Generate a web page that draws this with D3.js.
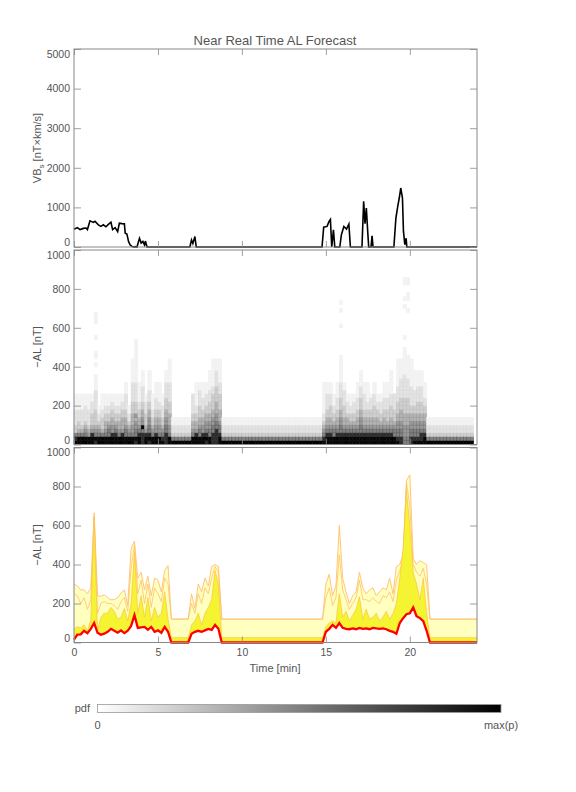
<!DOCTYPE html>
<html><head><meta charset="utf-8">
<script src="https://cdn.jsdelivr.net/npm/d3@7"></script>
<style>
body{margin:0;background:#fff;}
text{font-family:"Liberation Sans",Arial,sans-serif;fill:#555;}
</style></head><body>
<svg id="c" width="576" height="792"></svg>
<script>
// ---------------- DATA ----------------
const title = "Near Real Time AL Forecast";
const xTicks = [0,5,10,15,20];
const vTicks = [0,1000,2000,3000,4000,5000];
const alTicks = [0,200,400,600,800,1000];

// VBs (nT x km/s) - irregular time samples (min)
const vbsT = [0,0.2,0.36,0.56,0.72,0.8,0.95,1.15,1.25,1.45,1.6,1.75,1.9,2.05,2.2,2.3,2.45,2.6,2.7,2.85,3.0,3.05,3.15,3.25,3.35,3.45,3.55,3.65,3.75,3.9,4.0,4.1,4.2,4.25,4.35,
  6.9,7.0,7.08,7.2,7.28,
  14.77,14.87,15.07,15.19,15.27,15.35,15.45,15.53,15.83,15.92,16.07,16.23,16.37,16.46,
  17.15,17.25,17.33,17.41,17.49,17.55,17.69,17.75,17.81,
  19.05,19.17,19.27,19.37,19.46,19.56,19.62,19.7,19.78,19.82,24];
const vbsV = [450,490,440,470,480,440,660,620,650,560,520,560,510,570,627,440,490,390,600,590,585,350,330,135,50,15,0,10,0,220,100,140,50,150,0,
  0,178,90,263,0,
  0,500,520,644,695,0,432,0,0,300,517,450,576,0,
  0,1152,590,983,400,0,0,280,0,
  0,729,1000,1237,1490,1237,400,60,220,0,0];

// AL forecast quantiles on a 0.2-min grid (0 ... 24 min, 121 samples)
const p50 = [15,40,42,60,48,70,100,50,40,45,55,70,60,50,62,48,60,85,140,75,78,80,65,80,55,62,50,80,55,
  0,0,0,0,0,0,
  45,55,60,55,62,70,65,90,70,
  0,0,0,0,0,0,0,0,0,0,0,0,0,0,0,0,0,0,0,0,0,0,0,0,0,0,0,0,0,0,0,
  55,70,90,75,100,75,70,68,72,68,75,70,72,68,75,72,70,72,68,60,55,45,100,125,145,150,180,135,125,110,60,
  0,0,0,0,0,0,0,0,0,0,0,0,0,0,0];
const p75 = [70,80,75,90,60,115,640,60,130,150,150,180,160,120,130,175,110,200,460,150,240,130,230,110,180,130,150,260,120,
  25,25,25,25,25,25,
  90,110,150,90,150,180,220,370,300,
  25,25,25,25,25,25,25,25,25,25,25,25,25,25,25,25,25,25,25,25,25,25,25,25,25,25,25,25,25,25,25,
  80,100,110,100,250,130,160,110,140,170,235,120,170,120,130,150,110,130,160,120,150,200,330,480,780,600,360,300,220,330,150,
  25,25,25,25,25,25,25,25,25,25,25,25,25,25,25];
const p90 = [250,240,200,230,170,220,650,150,200,210,200,200,190,170,210,230,160,380,500,250,320,200,300,180,280,250,210,330,300,
  120,120,120,120,120,120,
  200,150,250,200,280,250,330,390,360,
  120,120,120,120,120,120,120,120,120,120,120,120,120,120,120,120,120,120,120,120,120,120,120,120,120,120,120,120,120,120,120,
  230,280,190,230,450,270,220,170,200,230,320,220,220,210,230,210,200,240,230,260,210,320,370,420,820,700,400,360,340,380,300,
  120,120,120,120,120,120,120,120,120,120,120,120,120,120,120];
const p95 = [300,290,270,270,250,280,665,240,237,245,230,219,220,230,254,270,190,480,520,330,360,270,340,240,330,320,260,370,395,
  120,120,120,120,120,120,
  250,175,300,260,330,290,390,400,390,
  120,120,120,120,120,120,120,120,120,120,120,120,120,120,120,120,120,120,120,120,120,120,120,120,120,120,120,120,120,120,120,
  300,350,240,290,600,330,260,200,240,260,360,280,250,270,280,240,260,280,270,330,250,390,400,450,830,860,430,400,420,410,400,
  120,120,120,120,120,120,120,120,120,120,120,120,120,120,120];

// pdf histogram: one string per 0.2-min column, one digit (0..9) per 20 nT row from the bottom
const Q = "9632211";
const pdfCols = [
 "8763322221111","8864332221111","8864322221111","9865432222111","8854322221111","8875433322211",
 "7865433332222211110010110001000111","9865432211","8864333221111","8865443322111","8866543322111",
 "8875544332211","8876543322111","8865443322111","8875444332211","8866544332222111","9865432211",
 "8865544433322222111111","786655453332222211111111111","8876544332211111","7776855443322221111",
 "8875433322211","7876655443322211111","8865433221111","8875544332221111","8865544332211111",
 "8765433222111","7776655443332222111","8865544433322222111111",
 Q,Q,Q,Q,Q,Q,
 "8865443322222","8875443322111111","8866544333222211","8875544332221111","7876554433222111",
 "8866554433322211111","7776655443333221111111","7777665544433332222111","8876654443333222111111",
 Q,Q,Q,Q,Q,Q,Q,Q,Q,Q,Q,Q,Q,Q,Q,Q,Q,Q,Q,Q,Q,Q,Q,Q,Q,Q,Q,Q,Q,Q,
 "8765432211111111","8876544332222111","8876544333222111","8866543322111","8876544332221111",
 "8876655443332222111111100000001000101","8876544333222211","8876544322211","8876543322111",
 "8876543322211","8876544332221111","8876655443332221111","8876544332222111","8876544332211111",
 "8876544332221","8876544333222111","8876544332211","8876543322211","8876544332221111",
 "8876543332221111","8876544333222111111","8866543332222","8766554433322221111111",
 "7766554443332222211111",
 "6655544433332222221111111001000000010100011",
 "6655544433332222211111100000000000100110011",
 "7766554433222221111111","8766554433222211111","8766554433322221111",
 "8776554433322221111","8876554433221111",
 Q,Q,Q,Q,Q,Q,Q,Q,Q,Q,Q,Q,Q,Q
];

// ---------------- DRAWING ----------------
const svg = d3.select("#c");
const step = 0.2;
const tGrid = d3.range(p50.length).map(i => +(i*step).toFixed(2));

const x = d3.scaleLinear().domain([0,24]).range([74,477]);
const yV = d3.scaleLinear().domain([0,5000]).range([247,49]);
const yM = d3.scaleLinear().domain([0,1000]).range([444.5,250]);
const yB = d3.scaleLinear().domain([0,1000]).range([642.5,447.5]);

const axisCol = "#888";
function frame(y, yMajor, yMinorStep, showX){
  const g = svg.append("g");
  const [y0,y1] = y.range();
  const ymax = y.domain()[1];
  const yMinor = d3.range(0, ymax+0.001, yMinorStep);
  const xMinor = d3.range(0, 24.001, 1);
  const left = g.append("g").attr("transform",`translate(${x(0)},0)`);
  left.call(d3.axisLeft(y).tickValues(yMinor).tickSize(-3.5).tickFormat(""));
  left.call(d3.axisLeft(y).tickValues(yMajor).tickSize(-7).tickPadding(4).tickFormat(d3.format("d")));
  const right = g.append("g").attr("transform",`translate(${x(24)},0)`);
  right.call(d3.axisRight(y).tickValues(yMinor).tickSize(-3.5).tickFormat(""));
  right.call(d3.axisRight(y).tickValues(yMajor).tickSize(-7).tickFormat(""));
  const bot = g.append("g").attr("transform",`translate(0,${y0})`);
  bot.call(d3.axisBottom(x).tickValues(xMinor).tickSize(-3).tickFormat(""));
  bot.call(d3.axisBottom(x).tickValues(xTicks).tickSize(-6).tickPadding(6).tickFormat(showX? d3.format("d") : ""));
  const top = g.append("g").attr("transform",`translate(0,${y1})`);
  top.call(d3.axisTop(x).tickValues(xMinor).tickSize(-3).tickFormat(""));
  top.call(d3.axisTop(x).tickValues(xTicks).tickSize(-6).tickFormat(""));
  g.selectAll(".domain").remove();
  g.selectAll(".tick line").attr("stroke",axisCol).attr("stroke-width",0.8);
  g.selectAll(".tick text").attr("font-size",10.5).attr("fill","#555")
    .style("font-family","Liberation Sans, Arial, sans-serif");
  left.selectAll(".tick text").attr("dy", d => d===0 ? "-0.12em" : (d===ymax ? "0.8em" : "0.32em"));
  g.append("rect").attr("x",x(0)).attr("y",y1).attr("width",x(24)-x(0)).attr("height",y0-y1)
    .attr("fill","none").attr("stroke",axisCol).attr("stroke-width",1);
  return g;
}

// --- heatmap (middle) ---
const heat = svg.append("g");
const binH = 20;
pdfCols.forEach((s,i) => {
  const t0 = tGrid[i], t1 = t0 + step;
  for (let r = 0; r < s.length; r++) {
    const v = +s[r];
    if (!v) continue;
    const gcol = d3.interpolateGreys(Math.min(1, v/8.2));
    heat.append("rect")
      .attr("x", x(t0)).attr("width", x(t1)-x(t0))
      .attr("y", yM((r+1)*binH)).attr("height", yM(r*binH)-yM((r+1)*binH))
      .attr("fill", d3.interpolateRgb(gcol,"#fff")(v >= 7 ? 0 : 0.25))
      .attr("stroke", gcol).attr("stroke-width",0.5);
  }
});

// --- bottom quantile bands ---
const idx = d3.range(tGrid.length);
const band = (lo,hi) => d3.area().x(i=>x(tGrid[i])).y0(i=>yB(lo[i])).y1(i=>yB(hi[i]));
const line = (arr,ys) => d3.line().x(i=>x(tGrid[i])).y(i=>ys(arr[i]));
svg.append("path").datum(idx).attr("d", band(p75,p95)).attr("fill","#ffffc0");
svg.append("path").datum(idx).attr("d", line(p95,yB)).attr("fill","none").attr("stroke","#ffc070").attr("stroke-width",0.9);
svg.append("path").datum(idx).attr("d", line(p90,yB)).attr("fill","none").attr("stroke","#ffc070").attr("stroke-width",0.8);
svg.append("path").datum(idx).attr("d", band(p50,p75)).attr("fill","#f4f433");
svg.append("path").datum(idx).attr("d", line(p75,yB)).attr("fill","none").attr("stroke","#ffc040").attr("stroke-width",0.7);
svg.append("path").datum(idx).attr("d", line(p50,yB)).attr("fill","none").attr("stroke","#ff0000").attr("stroke-width",2.3);

// --- top VBs line ---
svg.append("path").datum(d3.range(vbsT.length))
  .attr("d", d3.line().x(i=>x(vbsT[i])).y(i=>yV(vbsV[i])))
  .attr("fill","none").attr("stroke","#000").attr("stroke-width",1.6);

frame(yV, vTicks, 100, false);
frame(yM, alTicks, 50, false);
frame(yB, alTicks, 50, true);

// texts
svg.append("text").attr("x",275).attr("y",44.5).attr("text-anchor","middle").attr("font-size",13).text(title);
svg.append("text").attr("x",275).attr("y",671.5).attr("text-anchor","middle").attr("font-size",11).text("Time [min]");
const yl1 = svg.append("text").attr("transform","translate(41,148) rotate(-90)").attr("text-anchor","middle").attr("font-size",11);
yl1.append("tspan").text("VB");
yl1.append("tspan").attr("font-size",8).attr("dy",3).text("s");
yl1.append("tspan").attr("dy",-3).text(" [nT\u00d7km/s]");
svg.append("text").attr("transform","translate(41,347) rotate(-90)").attr("text-anchor","middle").attr("font-size",11).text("\u2212AL [nT]");
svg.append("text").attr("transform","translate(41,545) rotate(-90)").attr("text-anchor","middle").attr("font-size",11).text("\u2212AL [nT]");

// colorbar
const defs = svg.append("defs");
const grad = defs.append("linearGradient").attr("id","gb");
grad.append("stop").attr("offset","0%").attr("stop-color","#fff");
grad.append("stop").attr("offset","100%").attr("stop-color","#000");
const cb = d3.scaleLinear().domain([0,1]).range([97.5,501]);
svg.append("rect").attr("x",cb(0)).attr("y",704.5).attr("width",cb(1)-cb(0)).attr("height",8)
  .attr("fill","url(#gb)").attr("stroke","#999").attr("stroke-width",0.8);
svg.append("text").attr("x",90).attr("y",712).attr("text-anchor","end").attr("font-size",11).text("pdf");
svg.append("text").attr("x",cb(0)).attr("y",729).attr("text-anchor","middle").attr("font-size",11).text("0");
svg.append("text").attr("x",cb(1)).attr("y",729).attr("text-anchor","middle").attr("font-size",11).text("max(p)");
</script>
</body></html>
